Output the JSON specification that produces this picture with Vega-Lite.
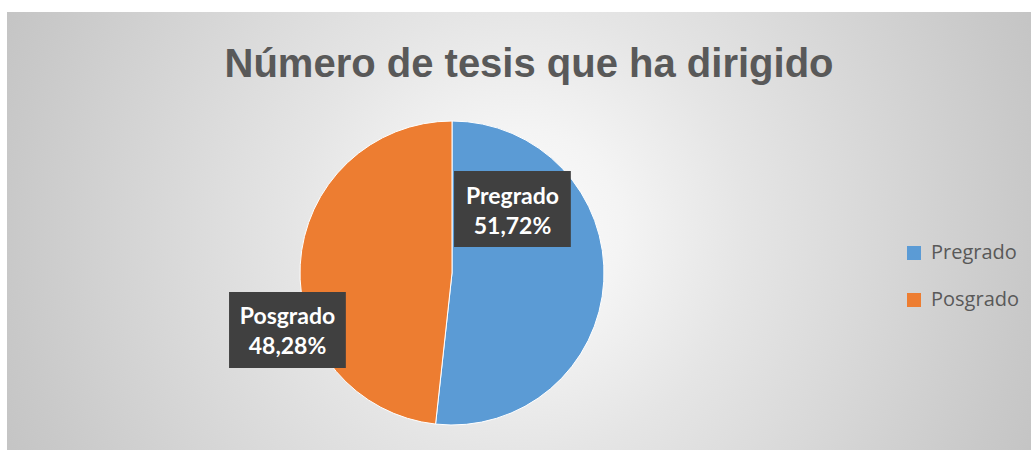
{
  "$schema": "https://vega.github.io/schema/vega-lite/v6.json",
  "width": 1024,
  "height": 438,
  "autosize": {"type": "none"},
  "padding": {"left": 7, "top": 12, "right": 0, "bottom": 0},
  "background": "#ffffff",
  "config": {
    "view": {"stroke": "#d9d9d9", "strokeWidth": 1},
    "legend": {
      "orient": "none",
      "legendX": 897,
      "legendY": 231,
      "padding": 0,
      "symbolType": "square",
      "symbolSize": 196,
      "symbolStrokeWidth": 0,
      "labelFont": "Open Sans",
      "labelFontSize": 20,
      "labelColor": "#595959",
      "labelOffset": 7,
      "rowPadding": 27
    }
  },
  "title": {
    "text": "Número de tesis que ha dirigido",
    "font": "Liberation Sans",
    "fontWeight": "bold",
    "fontSize": 40,
    "color": "#595959",
    "anchor": "middle",
    "frame": "group",
    "orient": "top",
    "offset": -105,
    "baseline": "alphabetic",
    "dx": 10
  },
  "data": {
    "values": [
      {"cat": "Pregrado", "n": 15, "pct": "51,72%"},
      {"cat": "Posgrado", "n": 14, "pct": "48,28%"}
    ]
  },
  "layer": [
    {
      "data": {"values": [{"bg": 1}]},
      "mark": {
        "type": "rect",
        "color": {
          "gradient": "radial",
          "x1": 0.5, "y1": 0.5, "r1": 0,
          "x2": 0.5, "y2": 0.5, "r2": 0.55,
          "stops": [
            {"offset": 0, "color": "#fbfbfb"},
            {"offset": 0.18, "color": "#f4f4f4"},
            {"offset": 0.4, "color": "#e5e5e5"},
            {"offset": 0.9, "color": "#c9c9c9"},
            {"offset": 1, "color": "#c4c4c4"}
          ]
        }
      },
      "encoding": {}
    },
    {
      "mark": {"type": "arc", "x": 445, "y": 261, "outerRadius": 152, "stroke": "#ffffff", "strokeWidth": 1},
      "encoding": {
        "theta": {"field": "n", "type": "quantitative", "stack": true},
        "order": {"field": "cat", "sort": "descending"},
        "color": {
          "field": "cat",
          "type": "nominal",
          "sort": ["Pregrado", "Posgrado"],
          "scale": {"domain": ["Pregrado", "Posgrado"], "range": ["#5B9BD5", "#ED7D31"]},
          "legend": {"title": null}
        }
      }
    },
    {
      "mark": {
        "type": "text",
        "text": "███",
        "font": "DejaVu Sans Mono",
        "fontSize": 64,
        "color": "#404040",
        "align": "center",
        "baseline": "middle",
        "x": 445,
        "y": 261,
        "dx": {"expr": "datum.cat === 'Pregrado' ? 60.5 : -164.5"},
        "dy": {"expr": "datum.cat === 'Pregrado' ? -61 : 59.5"}
      },
      "encoding": {"detail": {"field": "cat", "type": "nominal"}}
    },
    {
      "transform": [{"calculate": "[datum.cat, datum.pct]", "as": "label"}],
      "mark": {
        "type": "text",
        "font": "Lato",
        "fontWeight": "bold",
        "fontSize": 23,
        "lineHeight": 30,
        "color": "#ffffff",
        "align": "center",
        "baseline": "middle",
        "x": 445,
        "y": 261,
        "dx": {"expr": "datum.cat === 'Pregrado' ? 60.5 : -164.5"},
        "dy": {"expr": "datum.cat === 'Pregrado' ? -76.5 : 44"}
      },
      "encoding": {"text": {"field": "label"}}
    }
  ]
}
